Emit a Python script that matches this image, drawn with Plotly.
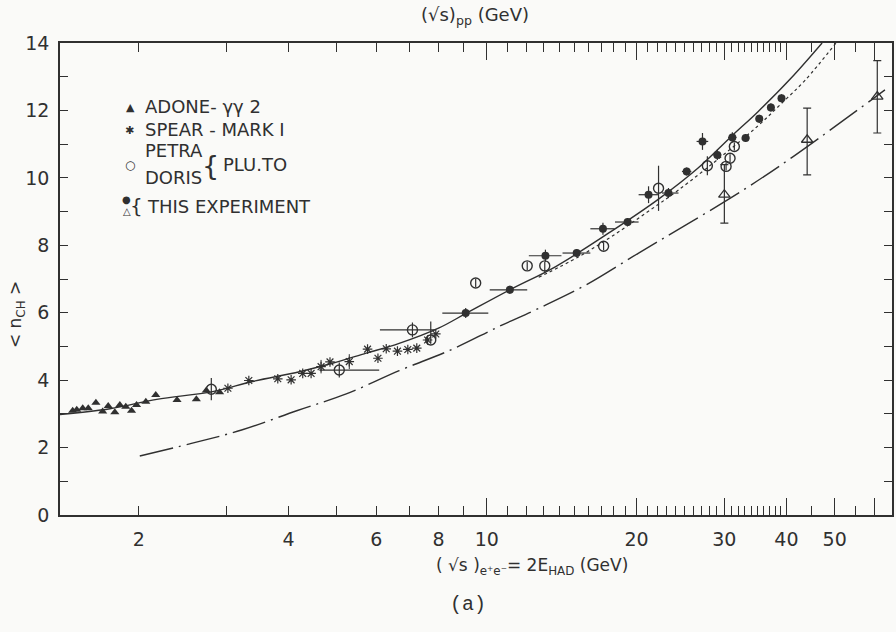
import plotly.graph_objects as go

# ---------------- data ----------------
# ADONE - gamma gamma 2 (filled triangles)
adone_x = [1.473, 1.501, 1.543, 1.583, 1.640, 1.692, 1.736, 1.790, 1.832, 1.883,
           1.934, 1.979, 2.066, 2.163, 2.387, 2.610, 2.733, 2.906]
adone_y = [3.09, 3.12, 3.17, 3.17, 3.33, 3.07, 3.23, 3.05, 3.26, 3.21,
           3.09, 3.26, 3.36, 3.56, 3.41, 3.43, 3.69, 3.64]

# SPEAR - MARK I (asterisks)
spear_x = [3.020, 3.327, 3.804, 4.046, 4.269, 4.438, 4.647, 4.843, 5.295, 5.762,
           6.046, 6.282, 6.617, 6.942, 7.236, 7.606, 7.901]
spear_y = [3.76, 3.99, 4.04, 4.01, 4.20, 4.20, 4.40, 4.54, 4.55, 4.92,
           4.65, 4.93, 4.86, 4.91, 4.95, 5.19, 5.37]
spear_ey = [0, 0, 0, 0, 0, 0, 0.2, 0, 0.22, 0, 0, 0, 0, 0, 0, 0, 0]

# PETRA / DORIS - PLUTO (open circles)
petra_x = [2.797, 5.056, 7.092, 7.719, 9.502, 12.06, 13.08, 17.17, 22.14, 27.75,
           30.26, 30.82, 31.44]
petra_y = [3.73, 4.30, 5.49, 5.19, 6.88, 7.39, 7.39, 7.97, 9.69, 10.36,
           10.34, 10.58, 10.93]
petra_ey_plus = [0.33, 0.22, 0.22, 0.55, 0.12, 0.12, 0.12, 0.12, 0.67, 0.28, 0.12, 0.12, 0.12]
petra_ey_minus = [0.33, 0.22, 0.22, 0.10, 0.12, 0.12, 0.22, 0.12, 0.67, 0.28, 0.12, 0.12, 0.12]
petra_ex_plus = [0, 1.025, 0.81, 0, 0, 0, 0, 0, 0, 0, 0, 0, 0]
petra_ex_minus = [0, 0.445, 0.99, 0, 0, 0, 0, 0, 0, 0, 0, 0, 0]

# THIS EXPERIMENT (filled circles)
this_x = [9.073, 11.13, 13.12, 15.16, 17.12, 19.19, 21.14, 23.18, 25.22, 27.13,
          29.06, 31.15, 33.12, 35.28, 37.23, 39.10]
this_y = [5.99, 6.68, 7.69, 7.77, 8.49, 8.69, 9.50, 9.55, 10.19, 11.08,
          10.68, 11.20, 11.18, 11.75, 12.09, 12.36]
this_ex_minus = [0.93, 0.99, 0.97, 0.96, 0.97, 1.09, 0.95, 0.68, 0.55, 0.73,
                 0.55, 0.6, 0.6, 0.6, 0.6, 0.6]
this_ex_plus = [1.00, 0.93, 1.01, 0.99, 0.95, 1.00, 1.00, 1.10, 0.55, 0.73,
                0.55, 0.6, 0.6, 0.6, 0.6, 0.6]
this_ey = [0.15, 0.12, 0.18, 0.12, 0.18, 0.12, 0.25, 0.15, 0.12, 0.25,
           0.15, 0.15, 0.12, 0.12, 0.12, 0.12]

# THIS EXPERIMENT (open triangles, pp)
tri_x = [30.02, 44.03, 60.90]
tri_y = [9.50, 11.13, 12.41]
tri_ey_plus = [0.89, 0.94, 1.07]
tri_ey_minus = [0.84, 1.04, 1.08]

# curves
solid_x = [1.389, 1.750, 2.173, 2.814, 3.384, 4.204, 4.897, 5.727, 6.669, 8.021,
           9.085, 11.13, 13.76, 17.82, 22.14, 26.62, 31.00, 35.12, 40.89, 47.18]
solid_y = [2.98, 3.15, 3.43, 3.66, 3.96, 4.25, 4.50, 4.80, 5.09, 5.55,
           5.98, 6.68, 7.37, 8.42, 9.37, 10.30, 11.23, 11.97, 12.96, 14.0]

dotted_x = [12.72, 15.30, 17.82, 20.85, 24.28, 30.16, 35.12, 39.05, 43.63, 50.32]
dotted_y = [7.05, 7.66, 8.26, 8.95, 9.64, 10.73, 11.55, 12.20, 12.90, 14.0]

dashdot_x = [2.009, 2.531, 3.217, 4.166, 5.222, 6.669, 8.478, 10.58, 12.72, 15.81,
             20.19, 25.19, 32.77, 41.27, 63.10]
dashdot_y = [1.75, 2.11, 2.52, 3.10, 3.59, 4.28, 4.90, 5.59, 6.13, 6.82,
             7.77, 8.61, 9.64, 10.63, 12.61]

# ticks
x_label_vals = [2, 4, 6, 8, 10, 20, 30, 40, 50]
x_long_vals = [10, 20, 30, 40, 50, 60]
x_minor_vals = [3, 5, 7, 9, 11, 12, 13, 14, 15, 16, 17, 18, 19,
                21, 22, 23, 24, 25, 26, 27, 28, 29,
                31, 32, 33, 34, 35, 36, 37, 38, 39, 45, 55, 60]
y_label_vals = [0, 2, 4, 6, 8, 10, 12, 14]

# ---------------- style ----------------
INK = "#303030"
BG = "#fafaf8"
FONT = "DejaVu Sans, Liberation Sans, sans-serif"
W, H = 896, 632
L, R, T, B = 60, 2, 43, 117
XR = [0.1427, 1.8142]

fig = go.Figure()

fig.add_trace(go.Scatter(x=solid_x, y=solid_y, mode="lines", line=dict(color=INK, width=1.4, shape="spline"),
                         showlegend=False, hoverinfo="skip"))
fig.add_trace(go.Scatter(x=dotted_x, y=dotted_y, mode="lines",
                         line=dict(color=INK, width=1.2, dash="dot", shape="spline"),
                         showlegend=False, hoverinfo="skip"))
fig.add_trace(go.Scatter(x=dashdot_x, y=dashdot_y, mode="lines", xaxis="x2",
                         line=dict(color=INK, width=1.4, dash="34px,6px,2px,6px", shape="spline"),
                         showlegend=False, hoverinfo="skip"))

fig.add_trace(go.Scatter(x=adone_x, y=adone_y, mode="markers",
                         marker=dict(symbol="triangle-up", size=8, color=INK), showlegend=False))
fig.add_trace(go.Scatter(x=spear_x, y=spear_y, mode="markers",
                         error_y=dict(type="data", array=spear_ey, color=INK, thickness=1, width=0),
                         marker=dict(symbol="asterisk-open", size=8, color=INK, line=dict(width=1.2, color=INK)),
                         showlegend=False))
fig.add_trace(go.Scatter(x=petra_x, y=petra_y, mode="markers",
                         error_y=dict(type="data", array=petra_ey_plus, arrayminus=petra_ey_minus,
                                      color=INK, thickness=1.2, width=0),
                         error_x=dict(type="data", array=petra_ex_plus, arrayminus=petra_ex_minus,
                                      color=INK, thickness=1.2, width=0),
                         marker=dict(symbol="circle-open", size=10, color=INK, line=dict(width=1.4, color=INK)),
                         showlegend=False))
fig.add_trace(go.Scatter(x=this_x, y=this_y, mode="markers",
                         error_y=dict(type="data", array=this_ey, color=INK, thickness=1.2, width=0),
                         error_x=dict(type="data", array=this_ex_plus, arrayminus=this_ex_minus,
                                      color=INK, thickness=1.2, width=0),
                         marker=dict(symbol="circle", size=8, color=INK), showlegend=False))
fig.add_trace(go.Scatter(x=tri_x, y=tri_y, mode="markers",
                         error_y=dict(type="data", array=tri_ey_plus, arrayminus=tri_ey_minus,
                                      color=INK, thickness=1.2, width=4),
                         marker=dict(symbol="triangle-up-open", size=10, color=INK,
                                     line=dict(width=1.3, color=INK)),
                         showlegend=False))


def P(px, py):
    return (px - L) / (W - L - R), (H - B - py) / (H - T - B)


ann = []


def text(px, py, s, size=18, anchor="left", family=FONT, angle=0):
    x, y = P(px, py)
    ann.append(dict(x=x, y=y, xref="paper", yref="paper", text=s, showarrow=False,
                    xanchor=anchor, yanchor="middle", textangle=angle, borderpad=0,
                    font=dict(family=family, size=size, color=INK)))


# legend (as text)
text(131, 108, "▲", size=11, anchor="center")
text(144, 107, "ADONE- γγ 2")
text(130, 131, "✱", size=11, anchor="center")
text(144, 130, "SPEAR - MARK I")
text(130, 165, "○", size=12, anchor="center")
text(144, 151, "PETRA")
text(144, 177, "DORIS")
text(211, 165, "{", size=27, anchor="center", family="DejaVu Sans ExtraLight, DejaVu Sans")
text(222, 164, "PLU.TO")
text(127, 199, "●", size=10, anchor="center")
text(127, 211, "△", size=10, anchor="center")
text(137, 206, "{", size=20, anchor="center", family="DejaVu Sans ExtraLight, DejaVu Sans")
text(146, 207, "THIS EXPERIMENT")

# axis titles
text(476, 16, "(√s)<sub>pp</sub> (GeV)", anchor="center")
text(436, 566, "( √s )<sub>e⁺e⁻</sub>= 2E<sub>HAD</sub> (GeV)", size=17)
text(16, 315, "< n<sub>CH</sub> >", size=17, anchor="center", angle=-90)
text(469, 604, "(a)", size=20, anchor="center", family="Liberation Mono, DejaVu Sans Mono, monospace")

fig.update_layout(
    width=W, height=H, margin=dict(l=L, r=R, t=T, b=B),
    paper_bgcolor=BG, plot_bgcolor=BG,
    annotations=ann,
    xaxis=dict(type="log", range=XR, tickmode="array", tickvals=x_label_vals,
               ticktext=[str(v) for v in x_label_vals],
               ticks="inside", ticklen=9, tickwidth=1.2, tickcolor=INK,
               minor=dict(tickmode="array", tickvals=x_minor_vals, ticks="inside",
                          ticklen=9, tickwidth=1.2, tickcolor=INK, showgrid=False),
               showline=True, linecolor=INK, linewidth=1.5, mirror="ticks",
               showgrid=False, zeroline=False, ticklabelstandoff=6,
               tickfont=dict(family=FONT, size=19, color=INK)),
    xaxis2=dict(type="log", range=XR, overlaying="x", anchor="y", side="bottom",
                tickmode="array", tickvals=x_long_vals, ticks="inside", ticklen=17,
                tickwidth=1.2, tickcolor=INK, showticklabels=False, showline=False,
                mirror="ticks", showgrid=False, zeroline=False),
    yaxis=dict(range=[0, 14], tickmode="array", tickvals=y_label_vals,
               ticktext=[str(v) for v in y_label_vals],
               ticks="inside", ticklen=8, tickwidth=1.2, tickcolor=INK,
               minor=dict(dtick=1, tick0=0, ticks="inside", ticklen=8, tickwidth=1.2,
                          tickcolor=INK, showgrid=False),
               showline=True, linecolor=INK, linewidth=1.5, mirror="ticks",
               showgrid=False, zeroline=False, ticklabelstandoff=5,
               tickfont=dict(family=FONT, size=19, color=INK)),
)

fig.write_html("out.html")
